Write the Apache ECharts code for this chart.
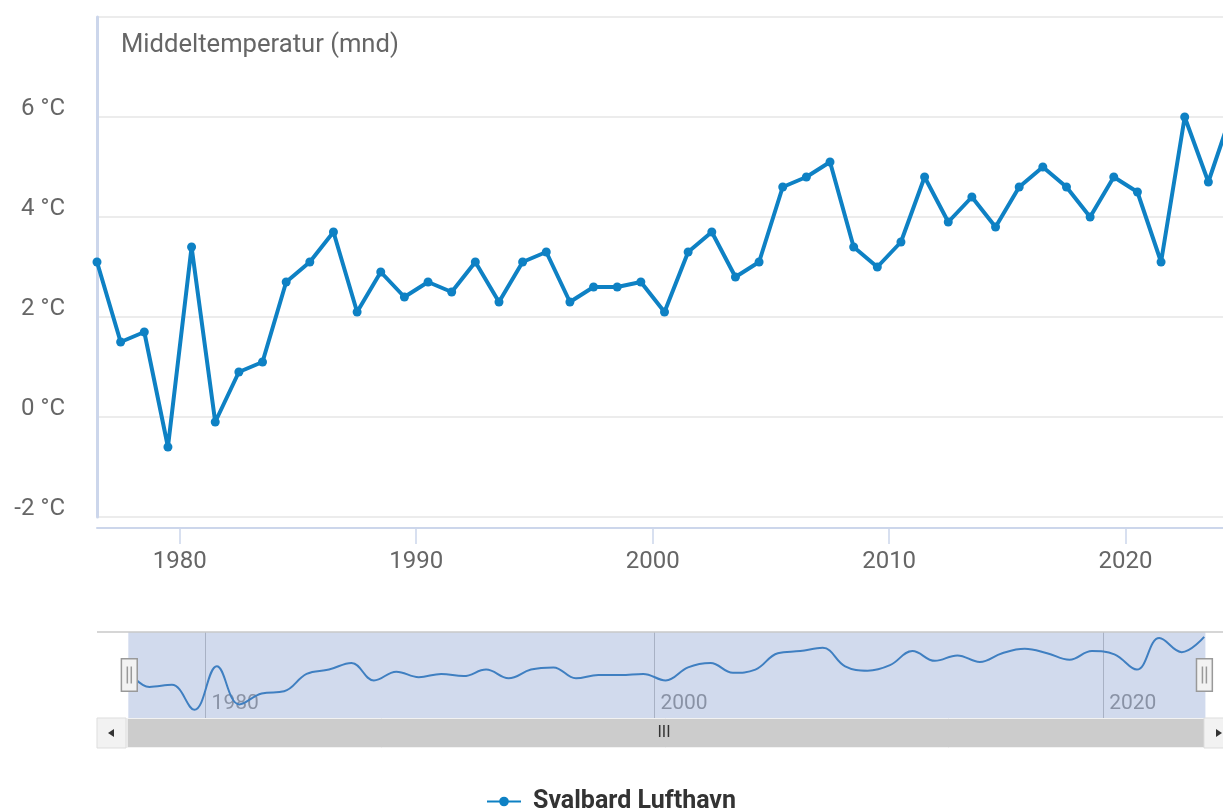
<!DOCTYPE html>
<html>
<head>
<meta charset="utf-8">
<title>Middeltemperatur</title>
<script src="https://cdn.jsdelivr.net/npm/echarts@6.0.0/dist/echarts.min.js"></script>
<style>
  html, body { margin: 0; padding: 0; background: #fff; overflow: hidden; }
  /* 原图右侧被裁切：图表比窗口略宽 */
  #chart { width: 1232px; height: 808px; }
</style>
</head>
<body>
<div id="chart"></div>
<script>
// 年份与年平均温度（°C）
const years = [
  1976, 1977, 1978, 1979, 1980, 1981, 1982, 1983, 1984, 1985,
  1986, 1987, 1988, 1989, 1990, 1991, 1992, 1993, 1994, 1995,
  1996, 1997, 1998, 1999, 2000, 2001, 2002, 2003, 2004, 2005,
  2006, 2007, 2008, 2009, 2010, 2011, 2012, 2013, 2014, 2015,
  2016, 2017, 2018, 2019, 2020, 2021, 2022, 2023, 2024
];
const temps = [
  3.1, 1.5, 1.7, -0.6, 3.4, -0.1, 0.9, 1.1, 2.7, 3.1,
  3.7, 2.1, 2.9, 2.4, 2.7, 2.5, 3.1, 2.3, 3.1, 3.3,
  2.3, 2.6, 2.6, 2.7, 2.1, 3.3, 3.7, 2.8, 3.1, 4.6,
  4.8, 5.1, 3.4, 3.0, 3.5, 4.8, 3.9, 4.4, 3.8, 4.6,
  5.0, 4.6, 4.0, 4.8, 4.5, 3.1, 6.0, 4.7, 6.1
];
const xTicks = [1980, 1990, 2000, 2010, 2020];   // 主图X轴刻度
const navTicks = [1980, 2000, 2020];             // 导航条刻度
const seriesName = 'Svalbard Lufthavn';
const chartTitle = 'Middeltemperatur (mnd)';

const font = 'Roboto';
const lineColor = '#0e81c4';

// 数据点放在年中
const points = years.map((y, i) => [y + 0.5, temps[i]]);

const chart = echarts.init(document.getElementById('chart'));

const option = {
  animation: false,
  title: {
    text: chartTitle,
    left: 116,
    top: 28,
    textStyle: { color: '#666', fontSize: 25.6, fontWeight: 'normal', fontFamily: font }
  },
  legend: {
    data: [seriesName],
    left: 481,
    top: 784,
    itemWidth: 34,
    itemHeight: 12,
    textStyle: { color: '#333', fontSize: 25, fontWeight: 'bold', fontFamily: font, padding: [0, 0, 0, 7] }
  },
  grid: [
    { left: 97, right: 0, top: 17, height: 500 },     // 主图
    { left: 97, right: 0, top: 632, height: 86 }      // 导航条
  ],
  xAxis: [
    {
      type: 'value',
      gridIndex: 0,
      min: 1975.16,
      max: 2025.74,
      offset: 11,
      axisLine: { onZero: false, lineStyle: { color: '#ccd6eb', width: 2 } },
      axisTick: { show: true, length: 16, customValues: xTicks, lineStyle: { color: '#ccd6eb', width: 1.5 } },
      axisLabel: {
        customValues: xTicks,
        margin: 22,
        color: '#666',
        fontSize: 24,
        fontFamily: font,
        formatter: v => String(v)
      },
      splitLine: { show: false }
    },
    {
      type: 'value',
      gridIndex: 1,
      min: 1975.16,
      max: 2025.74,
      axisLine: { show: false, onZero: false },
      axisTick: { show: false, customValues: navTicks },
      axisLabel: {
        customValues: navTicks,
        inside: true,
        align: 'left',
        margin: 4,
        padding: [0, 0, 0, 6],
        color: '#999',
        fontSize: 21,
        fontFamily: font,
        formatter: v => String(v)
      },
      splitLine: { show: true, lineStyle: { color: '#c4c4c4', width: 1 } }
    }
  ],
  yAxis: [
    {
      type: 'value',
      gridIndex: 0,
      min: -2,
      max: 8,
      interval: 2,
      axisLine: { show: true, lineStyle: { color: '#ccd6eb', width: 3 } },
      axisTick: { show: false },
      axisLabel: {
        margin: 32,
        verticalAlign: 'bottom',
        lineHeight: 16,
        color: '#666',
        fontSize: 24,
        fontFamily: font,
        formatter: v => (v === 8 ? '' : v + ' °C')
      },
      splitLine: { lineStyle: { color: '#e6e6e6', width: 1.5 } }
    },
    {
      type: 'value',
      gridIndex: 1,
      min: -1.35,
      max: 6.55,
      show: false
    }
  ],
  dataZoom: [
    // 导航条选区
    {
      type: 'slider',
      xAxisIndex: 0,
      filterMode: 'none',
      startValue: 1976.5,
      endValue: 2024.5,
      left: 97,
      right: 0,
      top: 632,
      height: 86,
      backgroundColor: 'rgba(0,0,0,0)',
      borderColor: 'rgba(0,0,0,0)',
      fillerColor: 'rgba(102,133,194,0.3)',
      showDataShadow: false,
      showDetail: false,
      brushSelect: false,
      moveHandleSize: 0,
      handleIcon: 'path://M0,0 H16 V33 H0 Z M6,8 V25 M10,8 V25',
      handleSize: '38%',
      handleStyle: { color: '#f2f2f2', borderColor: '#999', borderWidth: 1.5 },
      emphasis: { handleStyle: { color: '#f2f2f2', borderColor: '#999', borderWidth: 1.5 } },
      z: 10
    },
    // 滚动条
    {
      type: 'slider',
      xAxisIndex: 0,
      filterMode: 'none',
      startValue: 1976.5,
      endValue: 2024.5,
      left: 97,
      right: 0,
      top: 718,
      height: 30,
      backgroundColor: '#f2f2f2',
      borderColor: '#f2f2f2',
      fillerColor: '#cccccc',
      showDataShadow: false,
      showDetail: false,
      brushSelect: false,
      moveHandleSize: 0,
      handleSize: 1,
      handleStyle: { opacity: 0 },
      emphasis: { handleStyle: { opacity: 0 } },
      z: 10
    }
  ],
  graphic: [
    // 导航条上边框
    { type: 'line', shape: { x1: 97, y1: 632, x2: 1232, y2: 632 }, style: { stroke: '#c8c8c8', lineWidth: 1.5 }, z: 20 },
    // 滚动条左右按钮
    { type: 'rect', shape: { x: 97, y: 718, width: 29, height: 30 }, style: { fill: '#f2f2f2', stroke: '#dddddd', lineWidth: 1 }, z: 20 },
    { type: 'polygon', shape: { points: [[108, 733], [114, 729], [114, 737]] }, style: { fill: '#333' }, z: 21 },
    { type: 'rect', shape: { x: 1204, y: 718, width: 30, height: 30 }, style: { fill: '#f2f2f2', stroke: '#dddddd', lineWidth: 1 }, z: 20 },
    { type: 'polygon', shape: { points: [[1222, 733], [1216, 729], [1216, 737]] }, style: { fill: '#333' }, z: 21 },
    { type: 'text', x: 664, y: 733, style: { text: 'III', fill: '#333', font: '16px Roboto', align: 'center', verticalAlign: 'middle' }, z: 21 }
  ],
  series: [
    {
      name: seriesName,
      type: 'line',
      xAxisIndex: 0,
      yAxisIndex: 0,
      data: points,
      symbol: 'circle',
      symbolSize: 9,
      lineStyle: { color: lineColor, width: 4 },
      itemStyle: { color: lineColor },
      z: 5
    },
    {
      name: 'navigator',
      type: 'line',
      xAxisIndex: 1,
      yAxisIndex: 1,
      data: points,
      smooth: 0.4,
      symbol: 'none',
      lineStyle: { color: '#2f7dc0', width: 2 },
      silent: true
    }
  ]
};

chart.setOption(option);
</script>
</body>
</html>
